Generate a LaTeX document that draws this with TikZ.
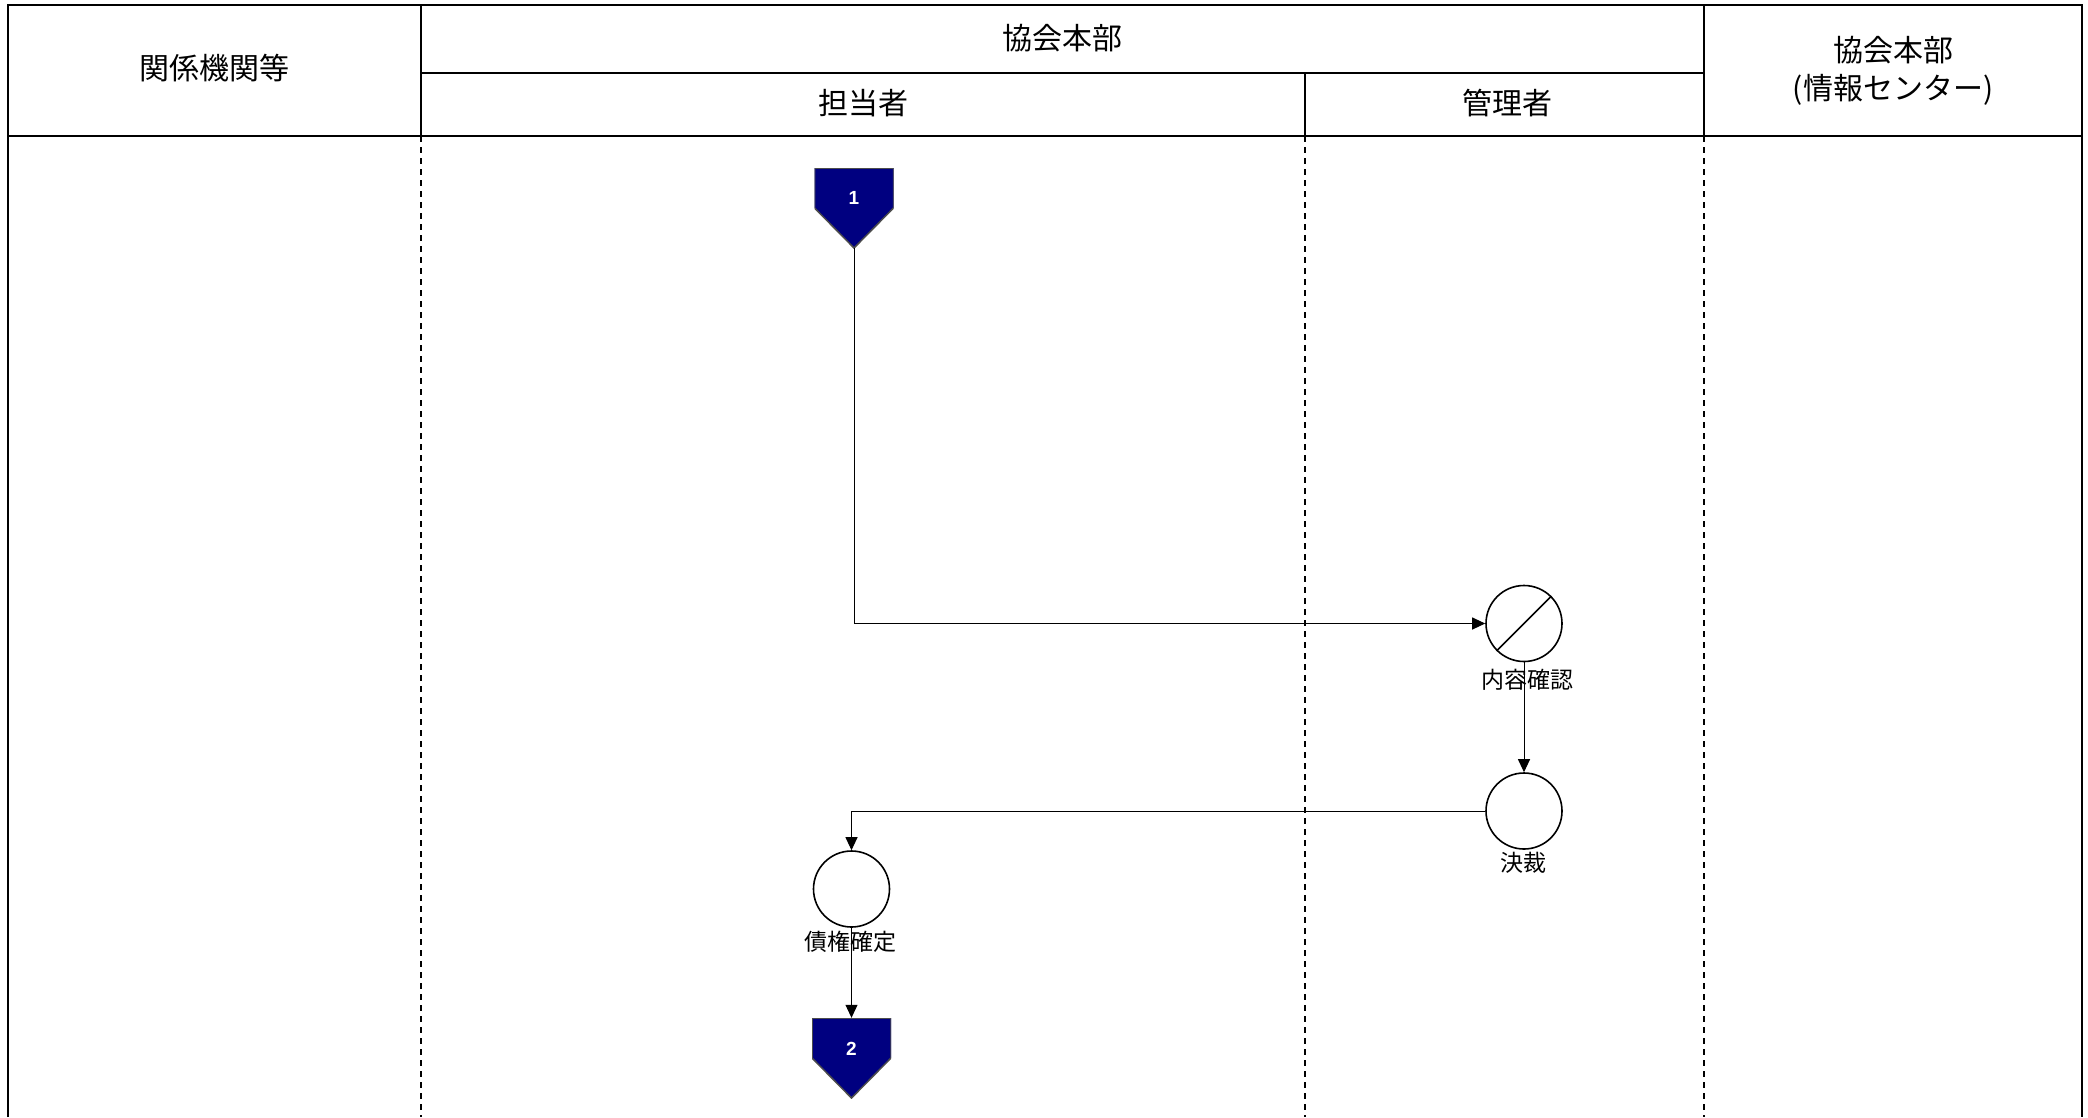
\documentclass[tikz,border=0pt]{standalone}
\usepackage{fontspec}
\setmainfont{Noto Sans CJK JP}
\newfontfamily\numfont{Liberation Sans}
\usetikzlibrary{arrows.meta,calc}
\definecolor{navyfill}{RGB}{0,0,128}
\begin{document}
\begin{tikzpicture}[x=1pt,y=-1pt,
  hdr/.style={line width=2pt},
  lane/.style={line width=1.6pt,dash pattern=on 6pt off 5pt},
  hdrtext/.style={font=\fontsize{30}{38}\selectfont, align=center, inner sep=0},
  proc/.style={circle, draw, line width=1.6pt, minimum size=76pt, inner sep=0, fill=white},
  lbl/.style={font=\fontsize{23}{27}\selectfont, inner sep=0},
  numlbl/.style={text=white, font=\numfont\bfseries\fontsize{19}{22}\selectfont, inner sep=0},
  flow/.style={line width=1pt, -{Triangle[length=13pt,width=12pt]}},
  pent/.style={minimum width=79pt, minimum height=80pt, inner sep=0,
    path picture={\filldraw[fill=navyfill, draw=black!70, line width=1.5pt] (path picture bounding box.north west) -- (path picture bounding box.north east) -- (path picture bounding box.east) -- (path picture bounding box.south) -- (path picture bounding box.west) -- cycle;}},
]
\useasboundingbox (0,0) rectangle (2088,1117);
% swimlane grid
\draw[lane] (421,136) -- (421,1117);
\draw[lane] (1305,136) -- (1305,1117);
\draw[lane] (1704,136) -- (1704,1117);
\draw[hdr] (8,1117) -- (8,5) -- (2082,5) -- (2082,1117);
\draw[hdr] (8,136) -- (2082,136);
\draw[hdr] (421,73) -- (1704,73);
\draw[hdr] (421,5) -- (421,136);
\draw[hdr] (1305,73) -- (1305,136);
\draw[hdr] (1704,5) -- (1704,136);
% header texts
\node[hdrtext] (h1) at (214.5,68) {関係機関等};
\node[hdrtext] (h2) at (1062,38) {協会本部};
\node[hdrtext] (h3) at (863,103) {担当者};
\node[hdrtext] (h4) at (1507,103) {管理者};
\node[hdrtext] (h5) at (1893,71) {協会本部\\(情報センター)};
% flow nodes
\node[pent] (p1) at (854,208) {};
\node[numlbl] (p1n) at ($(p1.center)+(0,-10)$) {1};
\node[proc] (c1) at (1524,623.5) {};
\draw[line width=1.6pt] (c1.-135) -- (c1.45);
\node[lbl] (t1) at (1527,680) {内容確認};
\node[proc] (c2) at (1524,811) {};
\node[lbl] (t2) at (1523,863) {決裁};
\node[proc] (c3) at (851.5,889) {};
\node[lbl] (t3) at (850,942) {債権確定};
\node[pent] (p2) at (851.5,1058) {};
\node[numlbl] (p2n) at ($(p2.center)+(0,-9)$) {2};
% connectors
\draw[flow] (p1.south) |- (c1.west);
\draw[flow] (c1.south) -- (c2.north);
\draw[flow] (c2.west) -| (c3.north);
\draw[flow] (c3.south) -- (p2.north);
\end{tikzpicture}
\end{document}
